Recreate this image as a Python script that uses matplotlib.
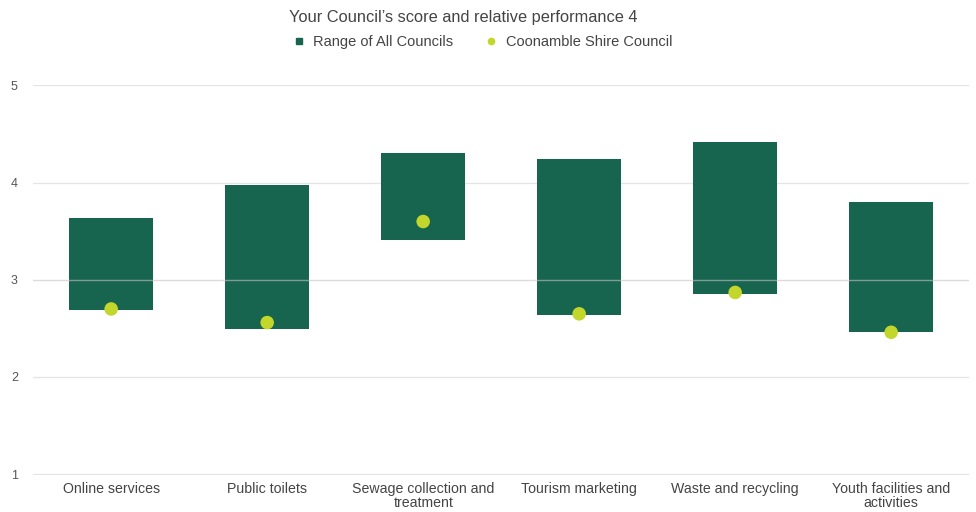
import matplotlib as mpl

mpl.use("Agg")
import matplotlib.pyplot as plt  # noqa: E402
from matplotlib.lines import Line2D  # noqa: E402

categories = [
    "Online services",
    "Public toilets",
    "Sewage collection and\ntreatment",
    "Tourism marketing",
    "Waste and recycling",
    "Youth facilities and\nactivities",
]
range_low = [2.69, 2.49, 3.41, 2.64, 2.85, 2.46]
range_high = [3.64, 3.98, 4.31, 4.24, 4.42, 3.80]
council_score = [2.70, 2.56, 3.60, 2.65, 2.87, 2.46]

GREEN = "#17644f"
LIME = "#c3d62b"
TEXT = "#555555"

plt.rcParams.update({"font.family": "Liberation Sans", "font.size": 9})

fig = plt.figure(figsize=(9.76, 5.12), dpi=100)
ax = fig.add_axes([0.034, 0.072, 0.959, 0.762])

x = range(len(categories))
heights = [h - l for l, h in zip(range_low, range_high)]
ax.bar(x, heights, bottom=range_low, width=0.54, color=GREEN, zorder=2)
ax.scatter(x, council_score, s=95, color=LIME, zorder=3, edgecolors="none")

for v in [1, 2, 4, 5]:
    ax.axhline(v, color="#e4e4e4", lw=0.9, zorder=0)
ax.axhline(3, color="#c4c4c4", lw=1.0, alpha=0.6, zorder=2.5)

ax.set_xlim(-0.5, 5.5)
ax.set_ylim(0.99, 5.005)
ax.set_yticks([1, 2, 3, 4, 5])
ax.set_xticks(list(x))
ax.set_xticklabels(categories, color="#444444", fontsize=10.2, linespacing=1.0)
ax.tick_params(axis="y", colors=TEXT, labelsize=9, length=0, pad=16)
ax.tick_params(axis="x", length=0, pad=5)
for lbl in ax.get_yticklabels():
    lbl.set_horizontalalignment("left")
for s in ax.spines.values():
    s.set_visible(False)

fig.text(0.475, 0.965, "Your Council\u2019s score and relative performance 4",
         ha="center", va="center", fontsize=11.8, color="#444444")

handles = [
    Line2D([], [], marker="s", ls="none", color=GREEN, markersize=4.5,
           label="Range of All Councils"),
    Line2D([], [], marker="o", ls="none", color=LIME, markersize=4.5,
           label="Coonamble Shire Council"),
]
fig.legend(handles=handles, loc="center", bbox_to_anchor=(0.49, 0.918),
           ncol=2, frameon=False, fontsize=10.5, handletextpad=0.0,
           columnspacing=1.6, labelcolor="#444444")

fig.savefig("out.png", dpi=100)
